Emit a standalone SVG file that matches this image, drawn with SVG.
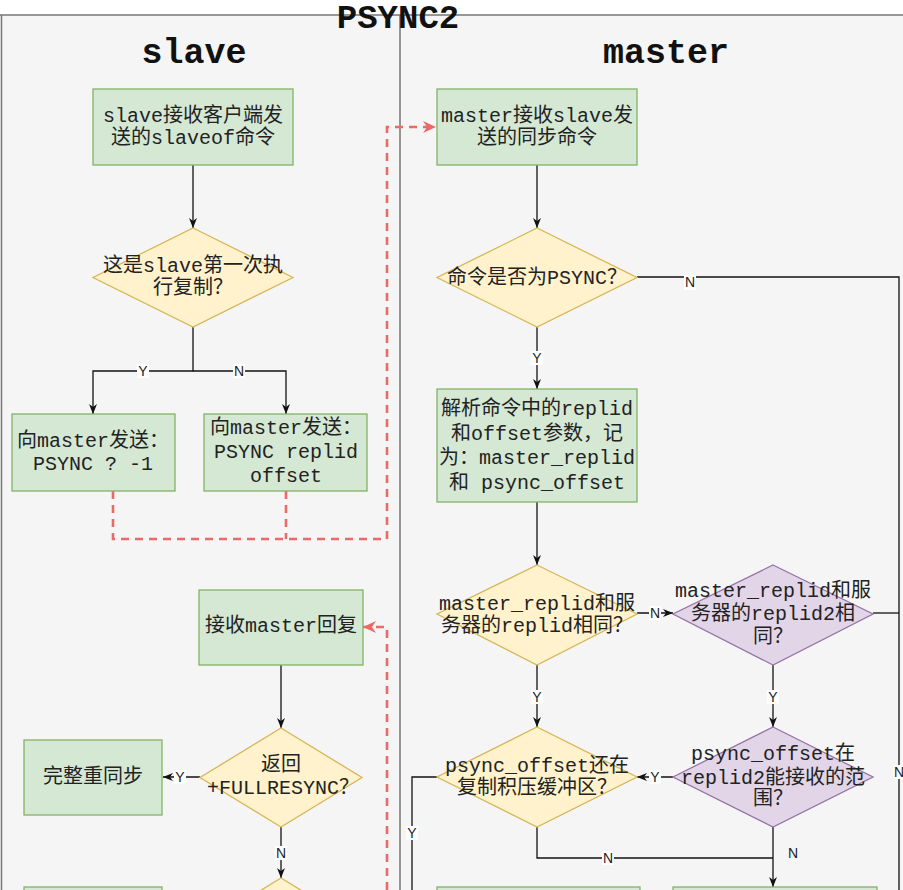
<svg xmlns="http://www.w3.org/2000/svg" width="903" height="890" viewBox="0 0 903 890">
<defs>
<style>
.t{font-family:"Liberation Mono","Noto Sans CJK SC",monospace;font-size:20px;fill:#222;text-anchor:middle}
.h{font-family:"Liberation Mono","Noto Sans CJK SC",monospace;font-weight:bold;fill:#111;text-anchor:middle}
.g{fill:#d5e8d4;stroke:#82b366;stroke-width:1.3}
.y{fill:#fff2cc;stroke:#d6b656;stroke-width:1.3}
.p{fill:#e1d5e7;stroke:#9673a6;stroke-width:1.3}
.c{fill:none;stroke:#111;stroke-width:1.3}
.r{fill:none;stroke:#ea6b66;stroke-width:2.6;stroke-dasharray:8 6}
.l{font-family:"Liberation Sans",Arial,sans-serif;font-size:14px;fill:#222;text-anchor:middle}
.lb{fill:#ffffff}
</style>
<marker id="a" markerUnits="userSpaceOnUse" markerWidth="10" markerHeight="8" refX="10" refY="4" orient="auto"><path d="M0,0 L10,4 L0,8 L3,4 Z" fill="#111"/></marker>
<marker id="ar" markerUnits="userSpaceOnUse" markerWidth="13" markerHeight="12" refX="13" refY="6" orient="auto"><path d="M0,0 L13,6 L0,12 L4,6 Z" fill="#ea6b66"/></marker>
</defs>
<rect x="0" y="0" width="903" height="890" fill="#ffffff"/>
<g id="pool">
<rect x="0" y="15" width="903" height="875" fill="#f5f5f5"/>
<path d="M0,15 H903 M1.5,15 V890 M400,15 V890" fill="none" stroke="#777" stroke-width="1.5"/>
<text class="h" x="398" y="28" font-size="34">PSYNC2</text>
<text class="h" x="194" y="63" font-size="35">slave</text>
<text class="h" x="666" y="63" font-size="35">master</text>
</g>
<g id="connectors">
<path class="c" d="M193,165 V228" marker-end="url(#a)"/>
<path class="c" d="M193,327 V371 H93 V414" marker-end="url(#a)"/>
<path class="c" d="M193,371 H286 V414" marker-end="url(#a)"/>
<path class="c" d="M537,165 V228" marker-end="url(#a)"/>
<path class="c" d="M637,277 H899 V890"/>
<path class="c" d="M537,327 V389" marker-end="url(#a)"/>
<path class="c" d="M537,502 V565" marker-end="url(#a)"/>
<path class="c" d="M637,613 H673" marker-end="url(#a)"/>
<path class="c" d="M873,613 H899"/>
<path class="c" d="M537,665 V727" marker-end="url(#a)"/>
<path class="c" d="M773,665 V727" marker-end="url(#a)"/>
<path class="c" d="M673,777 H637" marker-end="url(#a)"/>
<path class="c" d="M437,777 H412 V890"/>
<path class="c" d="M537,827 V858 H773"/>
<path class="c" d="M773,827 V887" marker-end="url(#a)"/>
<path class="c" d="M281,665 V728" marker-end="url(#a)"/>
<path class="c" d="M200,777 H163" marker-end="url(#a)"/>
<path class="c" d="M281,827 V878" marker-end="url(#a)"/>
<path class="r" d="M113,491 V539 H387 V127 H436" marker-end="url(#ar)"/>
<path class="r" d="M286,491 V539"/>
<path class="r" d="M387,890 V627 H363" marker-end="url(#ar)"/>
<rect class="lb" x="137" y="364" width="12" height="14"/><text class="l" x="143" y="376">Y</text>
<rect class="lb" x="233" y="364" width="12" height="14"/><text class="l" x="239" y="376">N</text>
<rect class="lb" x="684" y="275" width="12" height="15"/><text class="l" x="690" y="287">N</text>
<rect class="lb" x="531" y="351" width="12" height="14"/><text class="l" x="537" y="363">Y</text>
<rect class="lb" x="649" y="606" width="12" height="14"/><text class="l" x="655" y="618">N</text>
<rect class="lb" x="893" y="765" width="12" height="14"/><text class="l" x="899" y="777">N</text>
<rect class="lb" x="531" y="690" width="12" height="14"/><text class="l" x="537" y="702">Y</text>
<rect class="lb" x="767" y="690" width="12" height="14"/><text class="l" x="773" y="702">Y</text>
<rect class="lb" x="649" y="770" width="12" height="14"/><text class="l" x="655" y="782">Y</text>
<rect class="lb" x="406" y="826" width="12" height="14"/><text class="l" x="412" y="838">Y</text>
<rect class="lb" x="602" y="851" width="12" height="14"/><text class="l" x="608" y="863">N</text>
<text class="l" x="793" y="858">N</text>
<rect class="lb" x="174" y="770" width="12" height="14"/><text class="l" x="180" y="782">Y</text>
<rect class="lb" x="275" y="846" width="12" height="14"/><text class="l" x="281" y="858">N</text>
</g>
<g id="slave-recv-cmd"><rect class="g" x="93" y="89" width="200" height="76"/><text class="t" x="193" y="122">slave接收客户端发</text><text class="t" x="193" y="144">送的slaveof命令</text></g>
<g id="slave-first"><path class="y" d="M193,228 L293,277.5 L193,327 L93,277.5 Z"/><text class="t" x="193" y="272">这是slave第一次执</text><text class="t" x="193" y="294">行复制？</text></g>
<g id="send-full"><rect class="g" x="12" y="414" width="163" height="77"/><text class="t" x="93" y="447">向master发送：</text><text class="t" x="93" y="470">PSYNC ? -1</text></g>
<g id="send-partial"><rect class="g" x="204" y="414" width="163" height="77"/><text class="t" x="286" y="434">向master发送：</text><text class="t" x="286" y="458">PSYNC replid</text><text class="t" x="286" y="482">offset</text></g>
<g id="recv-reply"><rect class="g" x="199" y="590" width="164" height="75"/><text class="t" x="281" y="632">接收master回复</text></g>
<g id="is-full"><path class="y" d="M281,728 L362,777.5 L281,827 L200,777.5 Z"/><text class="t" x="281" y="771">返回</text><text class="t" x="283" y="794">+FULLRESYNC？</text></g>
<g id="full-resync"><rect class="g" x="24" y="740" width="138" height="75"/><text class="t" x="93" y="783">完整重同步</text></g>
<g id="slave-next"><path class="y" d="M281,878 L362,927.5 L281,977 L200,927.5 Z"/></g>
<g id="slave-bottom-box"><rect class="g" x="24" y="887" width="138" height="75"/></g>
<g id="master-recv"><rect class="g" x="437" y="89" width="200" height="76"/><text class="t" x="537" y="122">master接收slave发</text><text class="t" x="537" y="144">送的同步命令</text></g>
<g id="is-psync"><path class="y" d="M537,228 L637,277.5 L537,327 L437,277.5 Z"/><text class="t" x="537" y="284">命令是否为PSYNC？</text></g>
<g id="parse"><rect class="g" x="437" y="389" width="200" height="113"/><text class="t" x="537" y="415">解析命令中的replid</text><text class="t" x="537" y="440">和offset参数，记</text><text class="t" x="537" y="464">为：master_replid</text><text class="t" x="537" y="489">和 psync_offset</text></g>
<g id="same-replid"><path class="y" d="M537,565 L637,614 L537,665 L437,614 Z"/><text class="t" x="537" y="610">master_replid和服</text><text class="t" x="537" y="632">务器的replid相同？</text></g>
<g id="same-replid2"><path class="p" d="M773,565 L873,614 L773,665 L673,614 Z"/><text class="t" x="773" y="597">master_replid和服</text><text class="t" x="773" y="620">务器的replid2相</text><text class="t" x="773" y="643">同？</text></g>
<g id="in-backlog"><path class="y" d="M537,727 L637,777 L537,827 L437,777 Z"/><text class="t" x="537" y="772">psync_offset还在</text><text class="t" x="537" y="794">复制积压缓冲区？</text></g>
<g id="in-replid2-range"><path class="p" d="M773,727 L873,777 L773,827 L673,777 Z"/><text class="t" x="773" y="760">psync_offset在</text><text class="t" x="773" y="784">replid2能接收的范</text><text class="t" x="773" y="805">围？</text></g>
<g id="master-bottom-left"><rect class="g" x="437" y="887" width="203" height="75"/></g>
<g id="master-bottom-right"><rect class="g" x="673" y="887" width="204" height="75"/></g>
</svg>
